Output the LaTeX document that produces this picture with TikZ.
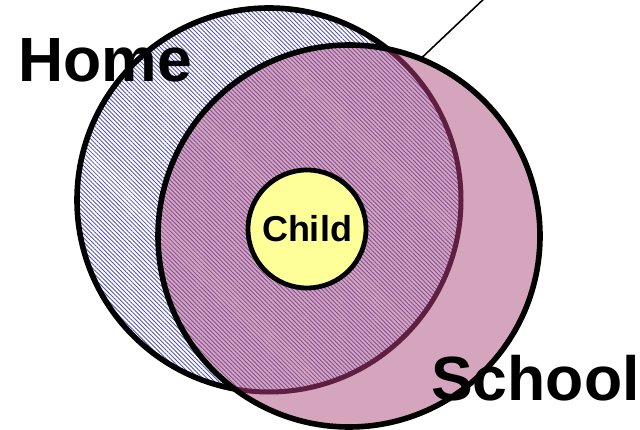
\documentclass[tikz,border=0pt]{standalone}
\usepackage{fontspec}
\setmainfont{Liberation Sans}
\usetikzlibrary{patterns.meta}

\definecolor{hatchblue}{RGB}{84,84,180}
\definecolor{schoolpink}{RGB}{212,165,189}
\definecolor{hatchpurple}{RGB}{128,78,154}
\definecolor{rimmaroon}{RGB}{94,31,64}
\definecolor{childyellow}{RGB}{255,255,153}

\tikzset{
  ring/.style={circle, inner sep=0pt, outer sep=0pt},
  hatch/.style={pattern={Lines[angle=-45, distance=3pt, line width=0.85pt]}, pattern color=#1},
  rim/.style={line width=5.6pt},
  label/.style={font=\bfseries\fontsize{62.5}{70}\selectfont, inner sep=0pt}
}

\begin{document}
\begin{tikzpicture}[x=1pt, y=-1pt]
  \useasboundingbox (0,0) rectangle (640,430);

  % centres and radii of the two sets
  \coordinate (hc) at (269,200);
  \coordinate (sc) at (349,236);
  \def\hr{192}
  \def\sr{191}

  % Home set: white ground with blue hatching, black rim
  \node[ring, minimum size=384pt] (home) at (hc) {};
  \fill[white] (hc) circle (\hr);
  \fill[hatch=hatchblue] (hc) circle (\hr);
  \draw[rim, black] (hc) circle (\hr);

  % School set: pink disc laid over it
  \node[ring, minimum size=382pt] (school) at (sc) {};
  \fill[schoolpink] (sc) circle (\sr);
  \begin{scope}
    \clip (sc) circle (\sr);
    \fill[hatch=hatchpurple] (hc) circle (\hr);
    \draw[line width=5pt, rimmaroon] (hc) circle (\hr);
  \end{scope}
  \draw[rim, black] (sc) circle (\sr);

  % the child in the middle
  \node[ring, minimum size=118pt, fill=childyellow, draw=black, line width=4.8pt,
        font=\bfseries\fontsize{36}{40}\selectfont] (child) at (307,229) {Child};

  % pointer leaving the School rim
  \coordinate (pointerend) at (488,-5);
  \draw[line width=1.6pt, black] (school.68.7) -- (pointerend);

  % set names
  \node[label, anchor=base west] (homelabel) at (18,82) {Home};
  \node[label, anchor=base west] (schoollabel) at (431,400) {School};
\end{tikzpicture}
\end{document}
